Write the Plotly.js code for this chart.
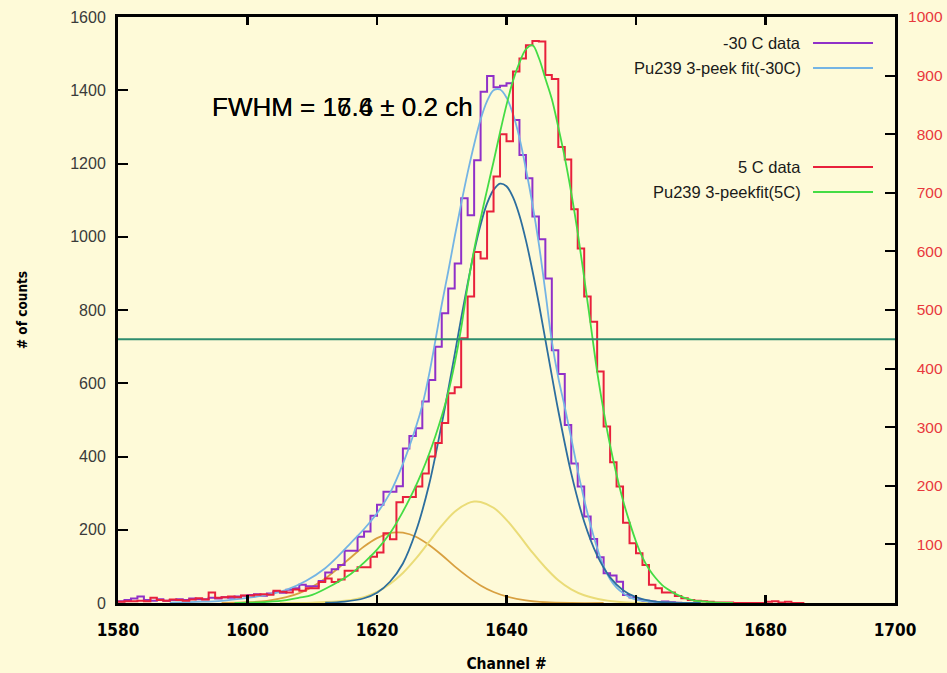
<!DOCTYPE html>
<html>
<head>
<meta charset="utf-8">
<script src="https://cdn.plot.ly/plotly-3.0.1.min.js"></script>
<style>html,body{margin:0;padding:0;background:#FEFAD8;}#chart{width:947px;height:673px;}</style>
</head>
<body>
<div id="chart"></div>
<script>
// ---- data ----
const channels = [1580,1581,1582,1583,1584,1585,1586,1587,1588,1589,1590,1591,1592,1593,1594,1595,1596,1597,1598,1599,
1600,1601,1602,1603,1604,1605,1606,1607,1608,1609,1610,1611,1612,1613,1614,1615,1616,1617,1618,1619,
1620,1621,1622,1623,1624,1625,1626,1627,1628,1629,1630,1631,1632,1633,1634,1635,1636,1637,1638,1639,
1640,1641,1642,1643,1644,1645,1646,1647,1648,1649,1650,1651,1652,1653,1654,1655,1656,1657,1658,1659,
1660,1661,1662,1663,1664,1665,1666,1667,1668,1669,1670,1671,1672,1673,1674,1675,1676,1677,1678,1679,
1680,1681,1682,1683,1684,1685];

// -30 C data, counts (left axis)
const countsMinus30 = [5,8,12,18,8,6,10,6,8,10,8,12,10,10,14,12,16,14,18,20,
22,24,20,26,30,28,36,40,50,46,46,60,83,92,104,143,143,181,195,238,
268,304,304,319,422,456,477,550,609,700,791,859,927,1105,1059,1209,1396,1439,1408,1412,
1419,1319,1223,1160,1055,993,886,690,625,486,381,318,236,175,125,81,75,58,22,15,
8,6,4,3,4,2,1,0];

// 5 C data, counts (right axis)
const counts5 = [2,3,3,4,3,9,5,4,6,5,4,6,8,6,18,9,10,11,10,13,
13,14,15,14,21,19,18,23,21,25,25,36,42,36,40,55,55,61,61,79,
86,119,109,172,181,181,199,221,250,273,307,358,368,452,523,599,588,668,728,800,
788,907,929,952,959,958,901,894,778,757,672,605,523,480,395,301,240,199,137,102,
85,65,31,25,18,18,12,8,5,4,3,2,1,1,1,0,0,0,0,0,
2,3,1,2,0,0];

// Pu239 3-peak fit (-30C), left axis
const fitMinus30X = [1588,1592,1596,1600,1603,1606,1609,1612,1614,1616,1618,1620,1622,1624,1626,1627,1628,1629,1630,1631,
1632,1633,1634,1635,1636,1637,1638,1639,1640,1641,1642,1643,1644,1645,1646,1647,1648,1649,1650,1651,
1652,1653,1654,1655,1656,1657,1658,1659,1660,1662,1665,1670];
const fitMinus30Y = [1,3,6,14,22,36,60,95,128,165,202,245,300,380,480,540,620,715,815,905,
1000,1090,1175,1252,1320,1370,1400,1402,1380,1335,1270,1185,1090,980,850,715,615,535,450,362,
282,212,150,100,65,42,27,16,9,4,1,0];

// main component, left axis
const peakMainX = [1612,1615,1618,1620,1622,1624,1626,1628,1630,1631,1632,1633,1634,1635,1636,1637,1638,1639,1640,1641,
1642,1643,1644,1645,1646,1647,1648,1650,1652,1654,1656,1658,1660,1663,1666,1670];
const peakMainY = [1,4,13,28,58,108,195,320,489,582,679,778,872,959,1033,1091,1128,1145,1138,1108,
1058,990,908,817,719,621,525,354,222,130,70,35,16,4,1,0];

// second component (yellow), left axis
const peak2X = [1605,1610,1615,1618,1620,1622,1624,1626,1628,1630,1632,1634,1635,1636,1638,1640,1642,1644,1646,1648,
1650,1652,1655,1658,1662,1666];
const peak2Y = [0,1,6,16,30,52,82,121,166,211,249,272,277,276,260,227,184,138,97,62,
37,21,8,2,0,0];

// third component (orange), left axis
const peak3X = [1596,1600,1603,1606,1608,1610,1612,1614,1616,1618,1620,1622,1623,1624,1626,1628,1630,1632,1634,1636,
1638,1640,1643,1646,1650,1655];
const peak3Y = [0,2,6,16,27,44,67,95,125,154,177,191,193,192,181,159,131,100,72,48,
30,18,7,2,0,0];

// Pu239 3-peak fit (5C), right axis
const fit5X = [1598,1600,1603,1606,1608,1610,1613,1616,1618,1620,1622,1624,1626,1627,1628,1629,1630,1631,1632,1633,
1634,1635,1636,1637,1638,1639,1640,1641,1642,1643,1644,1645,1646,1647,1648,1649,1650,1651,1652,1653,
1654,1655,1656,1657,1658,1659,1660,1661,1662,1663,1664,1665,1666,1667,1668,1669,1670,1672,1675];
const fit5Y = [0,0.6,2,5,9,14,30,50,69,91,119,156,200,225,253,284,319,359,409,469,
541,603,656,705,753,803,850,891,922,945,952,930,895,860,812,760,700,632,555,475,
395,328,269,219,175,138,105,78,58,43,31,23,16,11,7,4,3,1,0];

const fwhmLevel = 720;
const xTicks = [1580,1600,1620,1640,1660,1680,1700];
const yTicks = [0,200,400,600,800,1000,1200,1400,1600];
const y2Ticks = [100,200,300,400,500,600,700,800,900,1000];
const y2TickText = ['\u2007100','\u2007200','\u2007300','\u2007400','\u2007500','\u2007600','\u2007700','\u2007800','\u2007900','1000'];
const legendNames = ['-30 C data','Pu239 3-peek fit(-30C)','5 C data','Pu239 3-peekfit(5C)'];
const fwhmTexts = ['FWHM = 17.6 \u00b1 0.2 ch','FWHM = 16.4 \u00b1 0.2 ch'];

// ---- styles ----
const C = {
  purple:'#9030C8', lblue:'#74B4E4', red:'#E8203C', green:'#44DC44',
  dblue:'#2C6E9E', yellow:'#EADC78', orange:'#D8A040', hline:'#2E8C6E',
  bg:'#FEFAD8'
};
const FONT = 'Liberation Sans, Arial, sans-serif';
const NARROW = 'Liberation Sans Narrow, Arial Narrow, DejaVu Sans Condensed, sans-serif';

function withEnd(x, y){ // close the last histogram bin
  const n = Math.min(x.length, y.length);
  const xs = x.slice(0,n), ys = y.slice(0,n);
  xs.push(x[n-1]+1); ys.push(y[n-1]);
  return [xs, ys];
}
const [hx1, hy1] = withEnd(channels, countsMinus30);
const [hx2, hy2] = withEnd(channels, counts5);

const traces = [
  {x:peak3X, y:peak3Y, mode:'lines', line:{color:C.orange, width:1.8, shape:'spline'}, hoverinfo:'skip'},
  {x:peak2X, y:peak2Y, mode:'lines', line:{color:C.yellow, width:2, shape:'spline'}, hoverinfo:'skip'},
  {x:hx1, y:hy1, mode:'lines', line:{color:C.purple, width:2, shape:'hv'}, name:legendNames[0]},
  {x:hx2, y:hy2, yaxis:'y2', mode:'lines', line:{color:C.red, width:2, shape:'hv'}, name:legendNames[2]},
  {x:fitMinus30X, y:fitMinus30Y, mode:'lines', line:{color:C.lblue, width:1.8, shape:'spline'}, name:legendNames[1]},
  {x:peakMainX, y:peakMainY, mode:'lines', line:{color:C.dblue, width:1.8, shape:'spline'}, hoverinfo:'skip'},
  {x:fit5X, y:fit5Y, yaxis:'y2', mode:'lines', line:{color:C.green, width:1.8, shape:'spline'}, name:legendNames[3]}
];

// legend built from annotations + line samples
const legRows = [0.9556, 0.913, 0.744, 0.7014];
const legColors = [C.purple, C.lblue, C.red, C.green];
const annotations = [];
const shapes = [];
legendNames.forEach((n,i)=>{
  annotations.push({xref:'paper', yref:'paper', x:0.881, y:legRows[i], xanchor:'right', yanchor:'middle',
    text:n, showarrow:false, font:{family:FONT, size:16.5, color:'#1a1a1a'}});
  shapes.push({type:'line', xref:'paper', yref:'paper', x0:0.8945, x1:0.9717, y0:legRows[i], y1:legRows[i],
    line:{color:legColors[i], width:2}});
});
fwhmTexts.forEach(t=>{
  annotations.push({xref:'paper', yref:'paper', x:0.119, y:0.8464, xanchor:'left', yanchor:'middle',
    text:t, showarrow:false, font:{family:FONT, size:26, color:'#000'}});
});
shapes.push({type:'line', xref:'paper', yref:'y', x0:0, x1:1, y0:fwhmLevel, y1:fwhmLevel,
  line:{color:C.hline, width:2}});

const layout = {
  width:947, height:673,
  margin:{l:118, r:52, t:17, b:70},
  paper_bgcolor:C.bg, plot_bgcolor:C.bg,
  showlegend:false,
  xaxis:{range:[1580,1700], tickvals:xTicks, ticks:'inside', ticklen:8, tickwidth:2.5, tickcolor:'#000',
    showline:true, linewidth:3, linecolor:'#000', mirror:'ticks', showgrid:false, zeroline:false,
    ticklabelstandoff:10,
    tickfont:{family:NARROW, size:17, color:'#000', weight:'bold'},
    title:{text:'Channel #', font:{family:NARROW, size:15.5, color:'#000', weight:'bold'}, standoff:19}},
  yaxis:{range:[0,1600], tickvals:yTicks, ticks:'inside', ticklen:10, tickwidth:2, tickcolor:'#000',
    showline:true, linewidth:3, linecolor:'#000', showgrid:false, zeroline:false,
    ticklabelstandoff:6,
    tickfont:{family:FONT, size:16, color:'#3a3a3a'},
    title:{text:'# of counts', font:{family:NARROW, size:13.5, color:'#000', weight:'bold'}, standoff:40}},
  yaxis2:{range:[0,1000], overlaying:'y', side:'right', tickvals:y2Ticks, ticktext:y2TickText,
    ticks:'inside', ticklen:10, tickwidth:2, tickcolor:'#000',
    showline:true, linewidth:3, linecolor:'#000', showgrid:false, zeroline:false,
    ticklabelstandoff:7,
    tickfont:{family:FONT, size:15.5, color:'#E8383D'}},
  annotations:annotations,
  shapes:shapes
};
Plotly.newPlot('chart', traces, layout, {displayModeBar:false, staticPlot:true});
</script>
</body>
</html>
